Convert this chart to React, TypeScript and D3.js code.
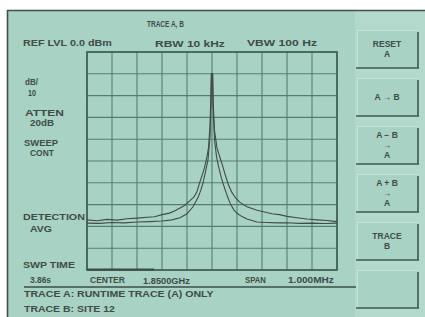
import React, { useLayoutEffect, useRef, useState } from "react";
import * as d3 from "d3";

// frequency offset in divisions from center (100 kHz/div), level in dBm
const traceAOffsets = [-5, -4.6, -4.2, -3.8, -3.4, -3, -2.6, -2.3, -2, -1.7, -1.5, -1.28, -1.1, -0.88, -0.72, -0.6, -0.48, -0.38, -0.3, -0.2, -0.14, -0.08, -0.05, -0.03, 0.03, 0.05, 0.1, 0.2, 0.32, 0.42, 0.52, 0.66, 0.8, 0.96, 1.12, 1.4, 1.6, 1.8, 2.1, 2.4, 2.7, 3, 3.4, 3.8, 4.2, 4.6, 5];
const traceALevels = [-77, -77.4, -76.8, -77.1, -76.5, -76.2, -75.8, -75.6, -74.6, -73.9, -72.9, -71.6, -70.4, -68.2, -66.5, -64, -59.5, -56, -53, -48, -44, -34, -22, -10, -10, -24, -36, -44, -48.5, -52, -56, -61, -64.5, -67.2, -69, -71, -71.8, -72.6, -73.4, -74.2, -74.6, -75.4, -76, -76.6, -77, -77.3, -77.8];

const traceBOffsets = [-5, -4.5, -4, -3.5, -3, -2.5, -2, -1.6, -1.28, -1.0, -0.76, -0.55, -0.45, -0.36, -0.26, -0.16, -0.08, -0.04, -0.015, 0.015, 0.04, 0.1, 0.18, 0.25, 0.38, 0.52, 0.64, 0.75, 0.88, 1.0, 1.2, 1.4, 1.8, 2.2, 2.6, 3, 3.5, 4, 4.5, 5];
const traceBLevels = [-78.5, -78.6, -78.2, -78.4, -78, -77.8, -77.5, -77, -76, -74.2, -71, -66.5, -63.5, -60, -55, -49.5, -39, -24, -10, -10, -24, -40, -48, -52, -58, -63, -67, -70, -72.5, -74, -75.5, -76.6, -78, -78.2, -78.4, -78.3, -78.6, -78.5, -78.7, -78.5];

const headerLabels = ["TRACE A, B"];
const leftLabels = ["dB/", "10", "ATTEN", "20dB", "SWEEP", "CONT", "DETECTION", "AVG"];
const buttonLabels = [["RESET", "A"], ["A \u2192 B"], ["A \u2212 B", "\u2192", "A"], ["A + B", "\u2192", "A"], ["TRACE", "B"], []];
const xDivisions = d3.range(0, 11);
const yDivisions = d3.range(0, 11);

const BG = "#a8d2c4";
const PANEL = "#b2d9cc";
const INK = "#3e4c47";
const GRID = "#52806f";
const FONT = "'Liberation Sans', Arial, sans-serif";

function Label({ s, x, y, w, size = 9.5 }: { s: string; x: number; y: number; w: number; size?: number }) {
  const ref = useRef<SVGTextElement>(null);
  const [sx, setSx] = useState(1);
  useLayoutEffect(() => {
    const el = ref.current;
    if (el) {
      const n = el.getComputedTextLength();
      if (n > 0) setSx(w / n);
    }
  }, [s, w, size]);
  return (
    <text
      ref={ref}
      transform={`translate(${x},${y}) scale(${sx},1)`}
      x={0}
      y={0}
      fontSize={size}
      fontWeight="bold"
      fontFamily={FONT}
      dominantBaseline="central"
      fill={INK}
    >
      {s}
    </text>
  );
}

export default function App() {
  const x = d3.scaleLinear().domain([-5, 5]).range([87, 337]);
  const y = d3.scaleLinear().domain([-100, 0]).range([270, 52]);
  const gx = d3.scaleLinear().domain([0, 10]).range([87, 337]);
  const gy = d3.scaleLinear().domain([0, 10]).range([52, 270]);

  const mk = d3.line<[number, number]>().x((d) => x(d[0])).y((d) => y(d[1]));
  const pathA = mk(traceAOffsets.map((o, i) => [o, traceALevels[i]] as [number, number]));
  const pathB = mk(traceBOffsets.map((o, i) => [o, traceBLevels[i]] as [number, number]));

  const leftY = [82, 93, 112, 123, 142, 153, 217, 229];
  const leftX = [25, 28, 25, 30, 24, 30, 23, 30];
  const leftLen = [13, 8, 39, 24, 34, 24, 62, 22];

  const buttonTops = [30, 78, 126, 174, 222, 270];

  return (
    <svg
      width={425}
      height={317}
      style={{ position: "absolute", left: 0, top: 0, background: "#ffffff" }}
    >
      <rect x={7} y={10} width={418} height={307} fill={BG} />
      <rect x={355} y={11} width={70} height={306} fill={PANEL} />
      <line x1={7} y1={10.5} x2={425} y2={10.5} stroke="#3d4f49" strokeWidth={1.6} />
      <line x1={7.5} y1={10} x2={7.5} y2={317} stroke="#3d4f49" strokeWidth={1.6} />

      {/* header */}
      <Label s={headerLabels[0]} x={147} y={24} w={37} />
      <Label s="REF LVL 0.0 dBm" x={23} y={43} w={89} />
      <Label s="RBW  10 kHz" x={155} y={43} w={70} />
      <Label s="VBW  100 Hz" x={247} y={43} w={70} />

      {/* grid */}
      {xDivisions.map((d) => (
        <line key={"gx" + d} x1={gx(d)} x2={gx(d)} y1={52} y2={270} stroke={GRID} strokeWidth={1.1} />
      ))}
      {yDivisions.map((d) => (
        <line key={"gy" + d} x1={87} x2={337} y1={gy(d)} y2={gy(d)} stroke={GRID} strokeWidth={1.1} />
      ))}
      <rect x={87} y={52} width={250} height={218} fill="none" stroke="#3f5a52" strokeWidth={1.6} />
      <line x1={87} x2={154} y1={269.5} y2={269.5} stroke="#3a4a45" strokeWidth={2.2} />

      {/* traces */}
      <path d={pathA ?? ""} fill="none" stroke="#414b47" strokeWidth={1.1} />
      <path d={pathB ?? ""} fill="none" stroke="#414b47" strokeWidth={1.1} />

      {/* left labels */}
      {leftLabels.map((s, i) => (
        <Label key={s} s={s} x={leftX[i]} y={leftY[i]} w={leftLen[i]} />
      ))}

      {/* bottom labels */}
      <Label s="SWP TIME" x={23} y={265} w={52} />
      <Label s="3.86s" x={30} y={280} w={21} />
      <Label s="CENTER" x={90} y={280} w={35} />
      <Label s="1.8500GHz" x={143} y={280} w={47} />
      <Label s="SPAN" x={245} y={280} w={21} />
      <Label s="1.000MHz" x={288} y={280} w={46} />
      <line x1={24} x2={356} y1={287} y2={287} stroke="#3d4f49" strokeWidth={1.4} />
      <Label s="TRACE A: RUNTIME TRACE (A) ONLY" x={24} y={294} w={190} />
      <Label s="TRACE B: SITE 12" x={24} y={309} w={91} />

      {/* softkeys */}
      {buttonTops.map((top, i) => {
        const lines = buttonLabels[i];
        const n = lines.length;
        const cy = top + 19;
        return (
          <g key={"b" + i}>
            <rect x={357} y={top} width={61} height={38} fill={BG} />
            <line x1={357} x2={418} y1={top + 0.5} y2={top + 0.5} stroke="#c4e4d9" strokeWidth={1} />
            <line x1={357.5} x2={357.5} y1={top} y2={top + 38} stroke="#c4e4d9" strokeWidth={1} />
            <line x1={356} x2={419} y1={top + 38} y2={top + 38} stroke="#3d5750" strokeWidth={1.6} />
            <line x1={418} x2={418} y1={top + 2} y2={top + 38} stroke="#3d5750" strokeWidth={1.6} />
            {lines.map((s, j) => (
              <text
                key={j}
                x={387}
                y={cy + (j - (n - 1) / 2) * 10}
                fontSize={8.5}
                fontWeight="bold"
                fontFamily={FONT}
                textAnchor="middle"
                dominantBaseline="central"
                fill={INK}
              >
                {s}
              </text>
            ))}
          </g>
        );
      })}
    </svg>
  );
}
